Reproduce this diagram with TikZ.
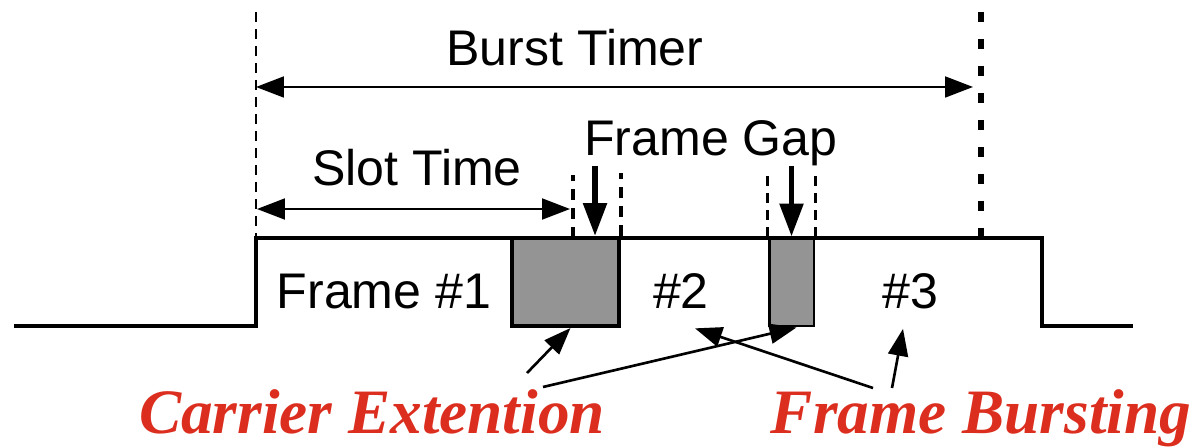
\documentclass[tikz,border=0pt]{standalone}
\usepackage{fontspec}
\setmainfont{Liberation Sans}
\newfontfamily\calloutfont{Liberation Serif}
\usepackage{tikz}
\usetikzlibrary{arrows.meta, positioning}
\definecolor{CalloutRed}{RGB}{220,46,30}
\definecolor{ExtensionGray}{RGB}{148,148,148}
\tikzstyle{timing} = [anchor=base, inner sep=0pt, font=\fontsize{28.5}{34}\selectfont]
\tikzstyle{callout} = [anchor=base, inner sep=0pt, text=CalloutRed, font=\calloutfont\bfseries\itshape\fontsize{36}{42}\selectfont]
\tikzstyle{span} = [line width=1.1pt, {Triangle[length=0.56cm,width=0.42cm]}-{Triangle[length=0.56cm,width=0.42cm]}]
\tikzstyle{arrow} = [line width=1.5pt, -{Triangle[length=0.54cm,width=0.4cm]}]
\tikzstyle{gaparrow} = [line width=3.2pt, -{Triangle[length=0.66cm,width=0.46cm]}]
\tikzstyle{extension} = [rectangle, draw=black, fill=ExtensionGray, inner sep=0pt, minimum height=1.76cm]
\tikzset{
  marker/.style={line width=1.5pt, dash pattern=on 0.2cm off 0.14cm},
  gapmarker/.style={line width=2.3pt, dash pattern=on 0.22cm off 0.16cm},
  heavymarker/.style={line width=3.4pt, dash pattern=on 0.2cm off 0.34cm}
}

\begin{document}
\begin{tikzpicture}[x=0.02cm, y=-0.02cm]
      \useasboundingbox (0,0) rectangle (1197,447);
      \draw [line width=2.3pt] (14,326) -| (256,238) -| (1042,326) -- (1133,326);
      \node (ext_one) [extension, line width=2.3pt, minimum width=2.14cm] at (565.5,282) {};
      \node (ext_two) [extension, line width=1.7pt, minimum width=0.9cm] at (791.5,282) {};
      \node (burst_timer) [timing] at (575,65) {Burst Timer};
      \node (slot_time) [timing] at (417,185) {Slot Time};
      \node (frame_gap) [timing] at (711,155) {Frame Gap};
      \node (frame_one) [timing] at (384,308) {Frame \#1};
      \node (frame_two) [timing] at (681,308) {\#2};
      \node (frame_three) [timing] at (910,308) {\#3};
      \node (carrier_ext) [callout] at (372,433) {Carrier Extention};
      \node (frame_bursting) [callout] at (981,433) {Frame Bursting};
      \coordinate (burst_start) at (256,12);
      \coordinate (burst_stop) at (981,12);
      \coordinate (gap_start) at (573,238);
      \draw [marker] (burst_start) -- (burst_start |- ext_one.north);
      \draw [heavymarker] (burst_stop) -- (burst_stop |- ext_one.north);
      \draw [gapmarker] (gap_start) -- ++(0,-63);
      \draw [gapmarker] (ext_one.north east) -- ++(0,-63);
      \draw [marker] (ext_two.north west) -- ++(0,-63);
      \draw [marker] (ext_two.north east) -- ++(0,-63);
      \coordinate (slot_start) at (257,209);
      \coordinate (slot_stop) at (570,209);
      \draw [span] ([yshift=-1.5cm]burst_start) -- ([xshift=-0.16cm, yshift=-1.5cm]burst_stop);
      \draw [span] (slot_start) -- (slot_stop);
      \draw [gaparrow] ([xshift=-2.32cm]frame_gap.south) -- ([xshift=-2.32cm]frame_gap.south |- ext_one.north);
      \draw [gaparrow] (frame_gap.south -| ext_two.north) -- (ext_two.north);
      \coordinate (carrier_tail_one) at (527,373);
      \coordinate (carrier_tail_two) at (543,387);
      \coordinate (bursting_tail_one) at (873,388);
      \coordinate (bursting_tail_two) at (892,388);
      \draw [arrow] (carrier_tail_one) -- ([xshift=0.1cm]ext_one.south);
      \draw [arrow] (carrier_tail_two) -- ([xshift=0.1cm]ext_two.south);
      \draw [arrow] (bursting_tail_one) -- ([xshift=0.28cm, yshift=-0.4cm]frame_two.south);
      \draw [arrow] (bursting_tail_two) -- ([xshift=-0.14cm, yshift=-0.4cm]frame_three.south);
\end{tikzpicture}
\end{document}
